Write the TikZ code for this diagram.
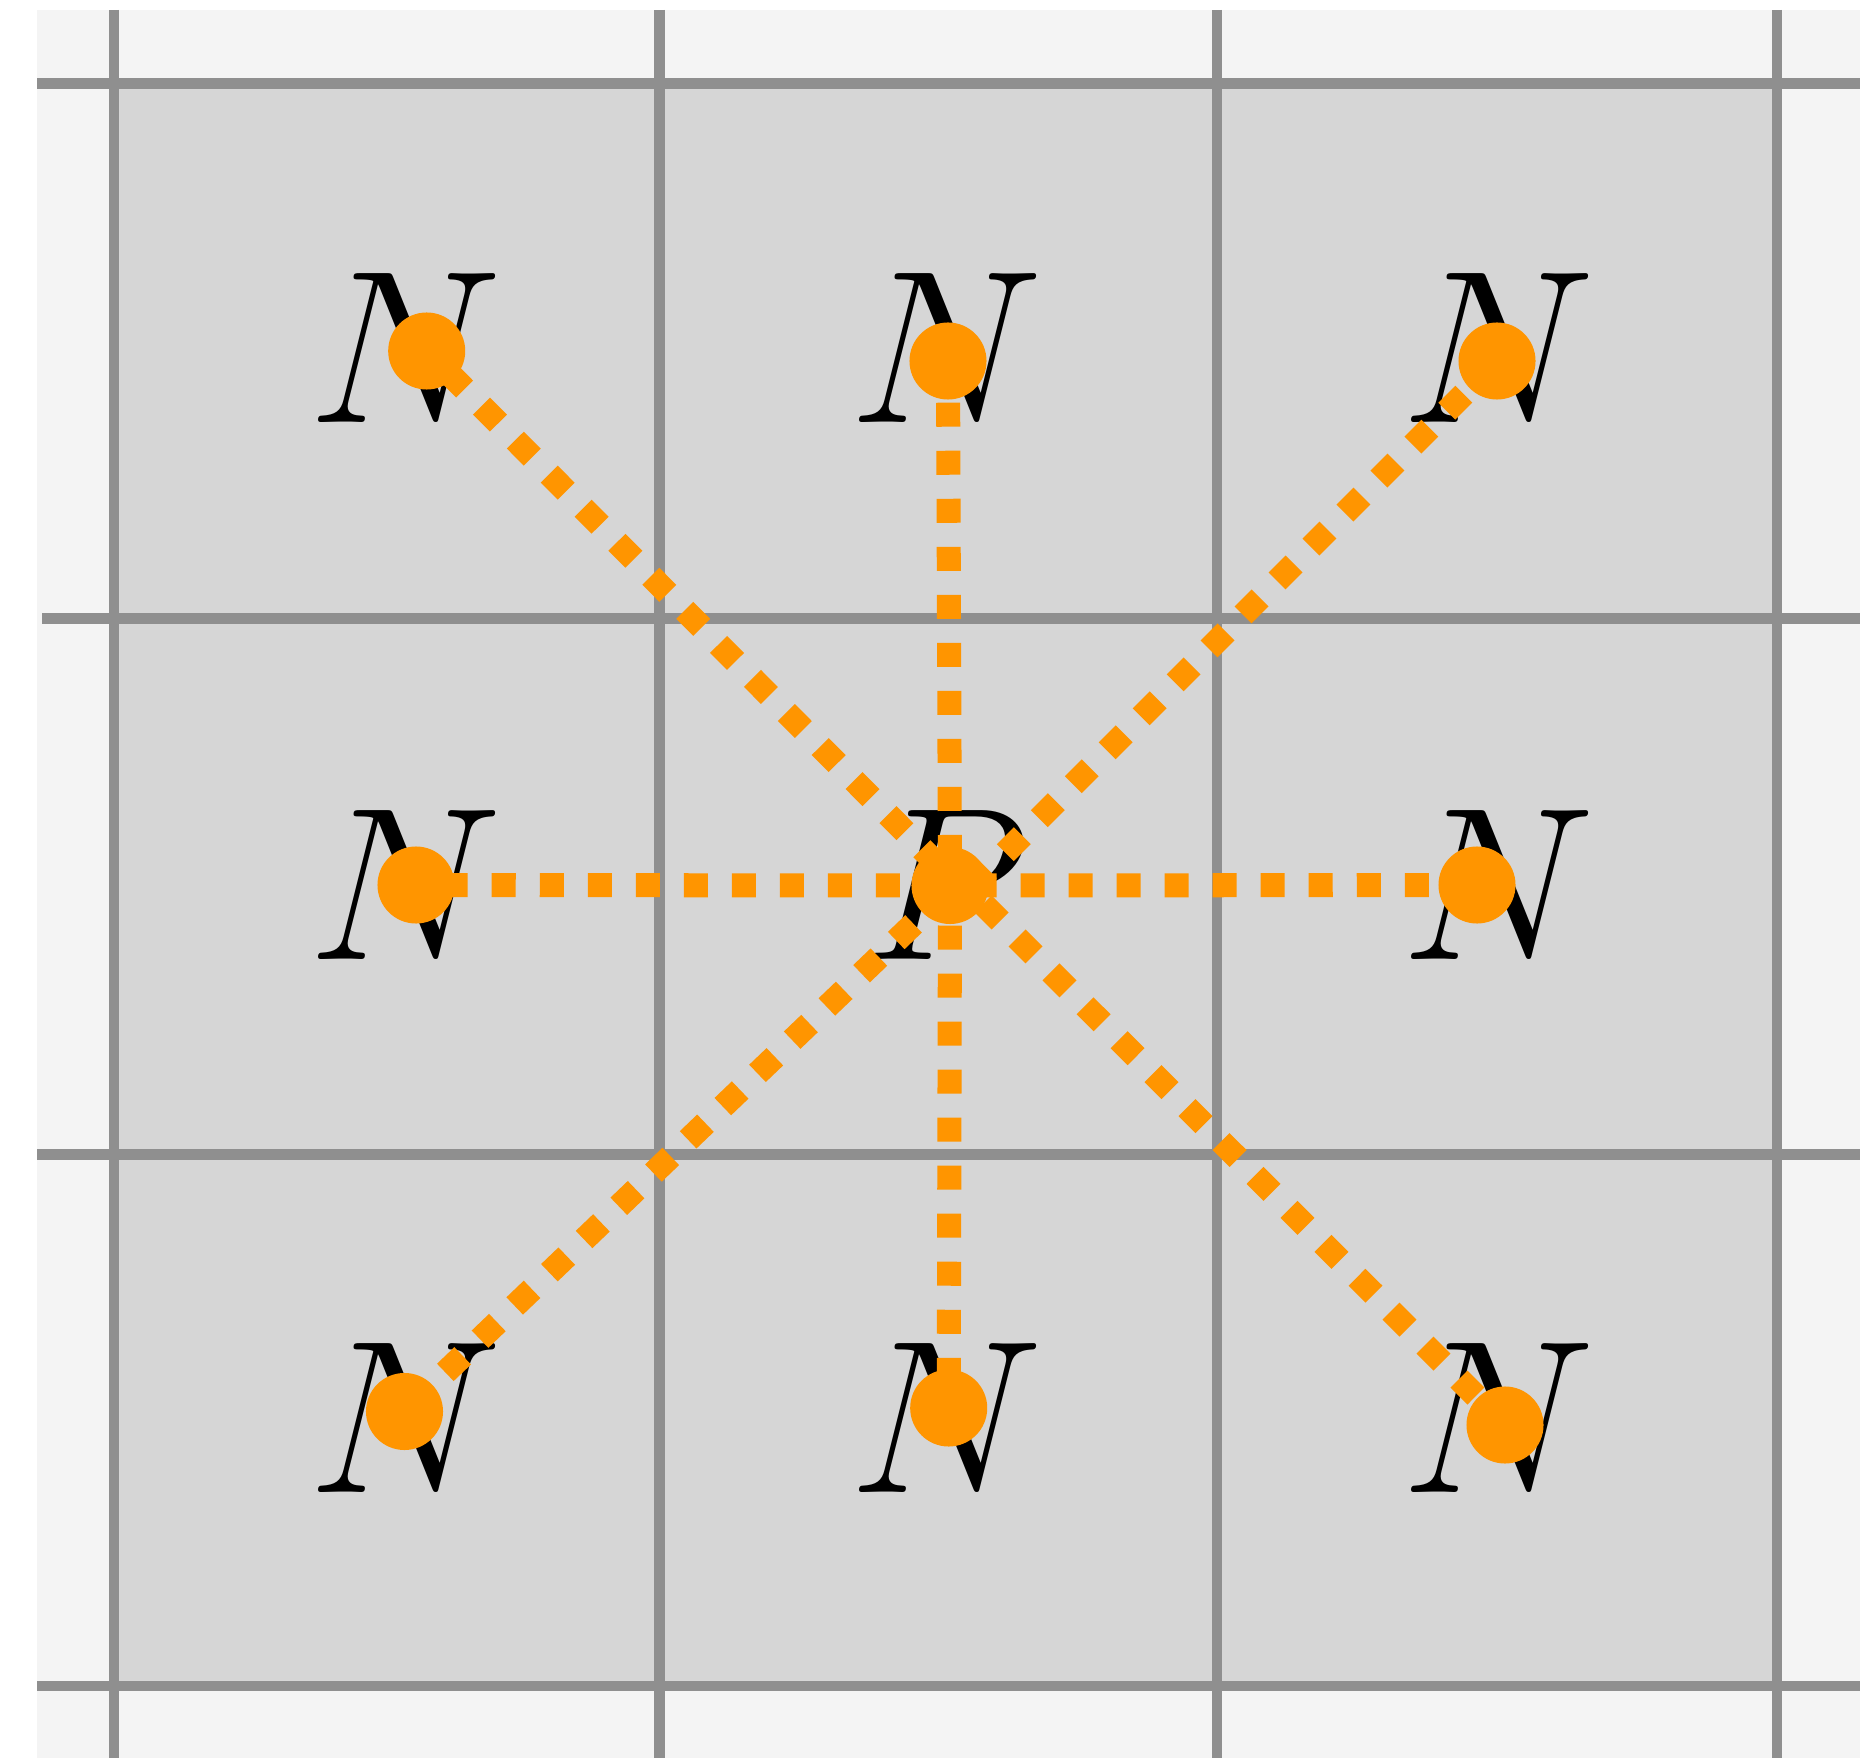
\RequirePackage{fix-cm}
\documentclass[tikz,border=0pt]{standalone}
\definecolor{bglight}{HTML}{F4F4F4}
\definecolor{cellfill}{HTML}{D6D6D6}
\definecolor{gridline}{HTML}{8F8F8F}
\definecolor{dotorange}{HTML}{FF9500}
\begin{document}
\begin{tikzpicture}[x=0.01cm,y=-0.01cm,
  gridstroke/.style={draw=gridline,line width=0.105cm},
  lbl/.style={inner sep=0pt,outer sep=0pt,font=\fontsize{62}{70}\selectfont},
  link/.style={draw=dotorange,line width=0.24cm,dash pattern=on 0.24cm off 0.24cm,dash phase=#1},
  dot/.style={circle,fill=dotorange,minimum size=0.77cm,inner sep=0pt,outer sep=0pt}]
\useasboundingbox (0,0) rectangle (1860,1758);
\fill[white] (0,0) rectangle (1860,1758);
\fill[bglight] (37,10) rectangle (1860,1758);
\fill[cellfill] (114,83.5) rectangle (1777,1686);
% grid
\draw[gridstroke] (37,83.5) -- (1860,83.5);
\draw[gridstroke] (42,618.5) -- (1860,618.5);
\draw[gridstroke] (37,1154.5) -- (1860,1154.5);
\draw[gridstroke] (37,1686) -- (1860,1686);
\draw[gridstroke] (114,10) -- (114,1758);
\draw[gridstroke] (659.5,10) -- (659.5,1758);
\draw[gridstroke] (1217,10) -- (1217,1758);
\draw[gridstroke] (1777,10) -- (1777,1758);
% labels
\node[lbl] (l1) at (405,348.5) {$N$};
\node[lbl] (l2) at (946,348.5) {$N$};
\node[lbl] (l3) at (1498.5,348.5) {$N$};
\node[lbl] (l4) at (405,885.5) {$N$};
\node[lbl] (lp) at (946,885.5) {$P$};
\node[lbl] (l6) at (1498.5,885.5) {$N$};
\node[lbl] (l7) at (405,1418) {$N$};
\node[lbl] (l8) at (946,1418) {$N$};
\node[lbl] (l9) at (1498.5,1418) {$N$};
% dot positions
\coordinate (c) at (950,885.5);
\coordinate (n1) at (426.7,351);
\coordinate (n2) at (948,361);
\coordinate (n3) at (1497,361);
\coordinate (n4) at (416,885);
\coordinate (n6) at (1477,885);
\coordinate (n7) at (404.5,1411.5);
\coordinate (n8) at (948.7,1408);
\coordinate (n9) at (1505,1425);
% hidden ends of the diagonal links under the centre dot
\coordinate (eNW) at (950,877);
\coordinate (eNE) at (950,908);
\coordinate (eSW) at (950,889);
\coordinate (eSE) at (950,871);
% links
\draw[link=0.46cm] (c) -- (n4);
\draw[link=0.255cm] (c) -- (n6);
\draw[link=0.215cm] (c) -- (n2);
\draw[link=0.08cm] (c) -- (n8);
\draw[link=0.321cm] (eNW) -- (n1);
\draw[link=0.178cm] (eNE) -- (n3);
\draw[link=0.456cm] (eSW) -- (n7);
\draw[link=0.013cm] (eSE) -- (n9);
% dots
\foreach \n in {c,n1,n2,n3,n4,n6,n7,n8,n9}
  \node[dot] (d\n) at (\n) {};
\end{tikzpicture}
\end{document}
